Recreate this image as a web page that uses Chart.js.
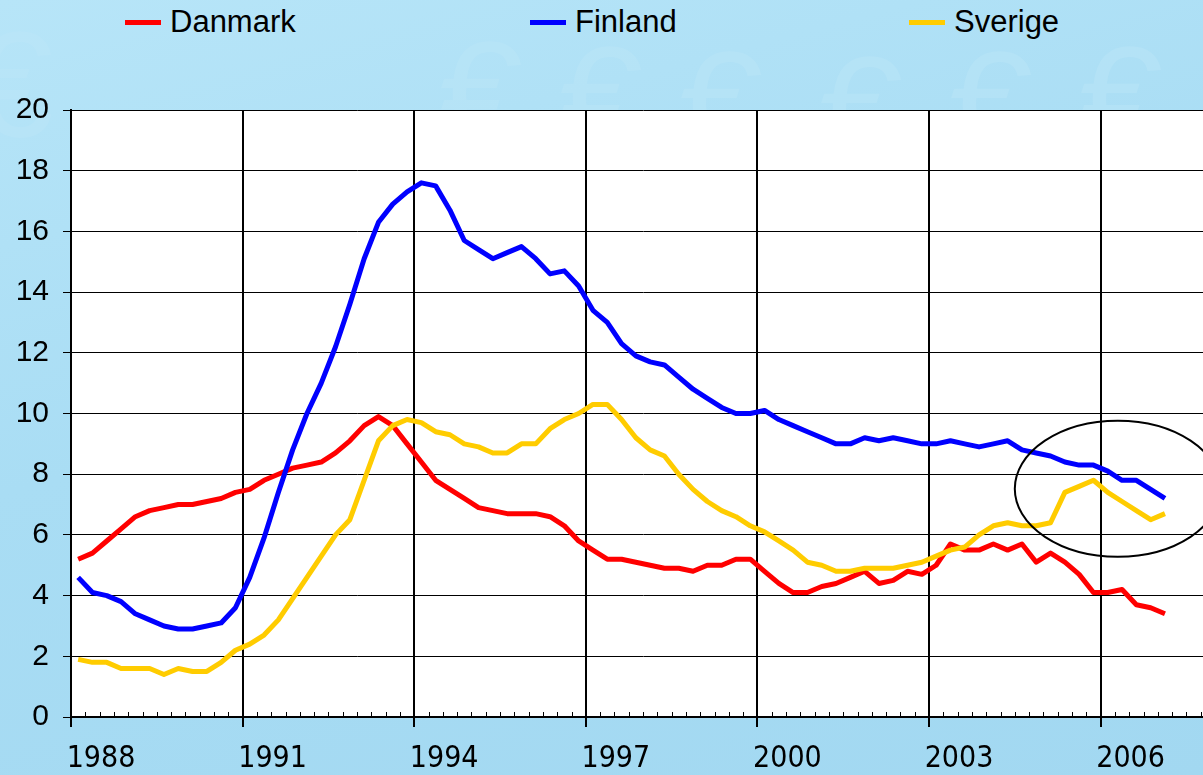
<!DOCTYPE html>
<html>
<head>
<meta charset="utf-8">
<title>Danmark, Finland, Sverige</title>
<script src="https://cdn.jsdelivr.net/npm/chart.js@4.4.1/dist/chart.umd.min.js"></script>
<style>
  html, body { margin: 0; padding: 0; }
  body {
    width: 1203px; height: 775px; overflow: hidden;
    background: linear-gradient(165deg, #b7e5f8 0%, #a9ddf4 45%, #a2d8f1 100%);
    font-family: "Liberation Sans", Arial, sans-serif;
  }
  #wrap { position: relative; width: 1203px; height: 775px; overflow: hidden; }
  .euro {
    position: absolute; font-size: 150px; line-height: 1; color: #bde7f8;
    font-family: "Liberation Sans", Arial, sans-serif; opacity: 0.45;
  }
  #chart { position: absolute; left: 0; top: 0; }
  .legend-item {
    position: absolute; top: 6px; height: 31px; line-height: 31px;
    font-size: 31px; color: #000; white-space: nowrap;
  }
  .legend-item .mark {
    display: inline-block; width: 36px; height: 5px;
    margin-right: 9px; vertical-align: 7px;
  }
</style>
</head>
<body>
<div id="wrap">
  <div class="euro" style="left:-30px; top:10px;">€</div>
  <div class="euro" style="left:440px; top:20px;">€</div>
  <div class="euro" style="left:560px; top:25px;">€</div>
  <div class="euro" style="left:680px; top:30px;">€</div>
  <div class="euro" style="left:820px; top:35px;">€</div>
  <div class="euro" style="left:950px; top:30px;">€</div>
  <div class="euro" style="left:1080px; top:25px;">€</div>
  <div id="legend"></div>
  <canvas id="chart" width="1215" height="775"></canvas>
</div>
<script>
// quarterly figures, 1988 K1 - 2007 K1
const tickYears = ['1988', '1991', '1994', '1997', '2000', '2003', '2006'];
const seriesNames = ['Danmark', 'Finland', 'Sverige'];
const seriesColors = ['#ff0000', '#0000ff', '#ffcc00'];

const danmark = [
  5.2, 5.4, 5.8, 6.2, 6.6, 6.8, 6.9, 7.0, 7.0, 7.1, 7.2, 7.4,
  7.5, 7.8, 8.0, 8.2, 8.3, 8.4, 8.7, 9.1, 9.6, 9.9, 9.6, 9.0,
  8.4, 7.8, 7.5, 7.2, 6.9, 6.8, 6.7, 6.7, 6.7, 6.6, 6.3, 5.8,
  5.5, 5.2, 5.2, 5.1, 5.0, 4.9, 4.9, 4.8, 5.0, 5.0, 5.2, 5.2,
  4.8, 4.4, 4.1, 4.1, 4.3, 4.4, 4.6, 4.8, 4.4, 4.5, 4.8, 4.7,
  5.0, 5.7, 5.5, 5.5, 5.7, 5.5, 5.7, 5.1, 5.4, 5.1, 4.7, 4.1,
  4.1, 4.2, 3.7, 3.6, 3.4
];
const finland = [
  4.6, 4.1, 4.0, 3.8, 3.4, 3.2, 3.0, 2.9, 2.9, 3.0, 3.1, 3.6,
  4.6, 5.9, 7.4, 8.8, 10.0, 11.0, 12.2, 13.6, 15.1, 16.3, 16.9, 17.3,
  17.6, 17.5, 16.7, 15.7, 15.4, 15.1, 15.3, 15.5, 15.1, 14.6, 14.7, 14.2,
  13.4, 13.0, 12.3, 11.9, 11.7, 11.6, 11.2, 10.8, 10.5, 10.2, 10.0, 10.0,
  10.1, 9.8, 9.6, 9.4, 9.2, 9.0, 9.0, 9.2, 9.1, 9.2, 9.1, 9.0,
  9.0, 9.1, 9.0, 8.9, 9.0, 9.1, 8.8, 8.7, 8.6, 8.4, 8.3, 8.3,
  8.1, 7.8, 7.8, 7.5, 7.2
];
const sverige = [
  1.9, 1.8, 1.8, 1.6, 1.6, 1.6, 1.4, 1.6, 1.5, 1.5, 1.8, 2.2,
  2.4, 2.7, 3.2, 3.9, 4.6, 5.3, 6.0, 6.5, 7.8, 9.1, 9.6, 9.8,
  9.7, 9.4, 9.3, 9.0, 8.9, 8.7, 8.7, 9.0, 9.0, 9.5, 9.8, 10.0,
  10.3, 10.3, 9.8, 9.2, 8.8, 8.6, 8.0, 7.5, 7.1, 6.8, 6.6, 6.3,
  6.1, 5.8, 5.5, 5.1, 5.0, 4.8, 4.8, 4.9, 4.9, 4.9, 5.0, 5.1,
  5.3, 5.5, 5.6, 6.0, 6.3, 6.4, 6.3, 6.3, 6.4, 7.4, 7.6, 7.8,
  7.4, 7.1, 6.8, 6.5, 6.7
];

const quartersOnAxis = 80; // axis runs on to 2008 K1
const circleMark = { x: 73.2, y: 7.52, rx: 7.2, ry: 2.24 }; // ring round the last quarters

const xTickFont = { family: '"DejaVu Sans Condensed", "Liberation Sans Narrow", sans-serif', size: 30 };
const yTickFont = { family: '"Liberation Sans", Arial, sans-serif', size: 30 };

// legend as plain html above the plot
const legendLeft = [125, 530, 909];
const legendEl = document.getElementById('legend');
seriesNames.forEach((name, i) => {
  const item = document.createElement('div');
  item.className = 'legend-item';
  item.style.left = legendLeft[i] + 'px';
  item.innerHTML = '<span class="mark" style="background:' + seriesColors[i] + '"></span>' + name;
  legendEl.appendChild(item);
});

const toPoints = arr => arr.map((v, i) => ({ x: i + 0.5, y: v }));

// white plot area, small quarter ticks and the ring
const plotDecor = {
  id: 'plotDecor',
  beforeDraw(chart) {
    const { ctx, chartArea: a } = chart;
    ctx.save();
    ctx.fillStyle = '#ffffff';
    ctx.fillRect(a.left, a.top, a.right - a.left, a.bottom - a.top);
    ctx.restore();
  },
  beforeDatasetsDraw(chart) {
    const { ctx, chartArea: a, scales } = chart;
    ctx.save();
    ctx.strokeStyle = '#000';
    ctx.lineWidth = 1;
    ctx.beginPath();
    for (let q = 1; q < quartersOnAxis; q++) {
      if (q % 12 === 0) continue;
      const x = Math.round(scales.x.getPixelForValue(q)) + 0.5;
      ctx.moveTo(x, a.bottom);
      ctx.lineTo(x, a.bottom - 5);
    }
    ctx.stroke();
    ctx.restore();
  },
  afterDatasetsDraw(chart) {
    const { ctx, scales } = chart;
    const cx = scales.x.getPixelForValue(circleMark.x);
    const cy = scales.y.getPixelForValue(circleMark.y);
    const rx = scales.x.getPixelForValue(circleMark.x + circleMark.rx) - cx;
    const ry = cy - scales.y.getPixelForValue(circleMark.y + circleMark.ry);
    ctx.save();
    ctx.strokeStyle = '#000';
    ctx.lineWidth = 2;
    ctx.beginPath();
    ctx.ellipse(cx, cy, rx, ry, 0, 0, Math.PI * 2);
    ctx.stroke();
    ctx.restore();
  }
};

const seriesData = [danmark, finland, sverige];

new Chart(document.getElementById('chart').getContext('2d'), {
  type: 'line',
  data: {
    datasets: seriesData.map((arr, i) => ({
      label: seriesNames[i],
      data: toPoints(arr),
      borderColor: seriesColors[i],
      backgroundColor: seriesColors[i],
      borderWidth: 5,
      pointRadius: 0,
      tension: 0,
      borderJoinStyle: 'round',
      order: 2 - i // sverige on top, then finland
    }))
  },
  options: {
    responsive: false,
    devicePixelRatio: 1,
    animation: false,
    layout: { padding: { top: 110, right: 0, bottom: 0, left: 0 } },
    plugins: {
      legend: { display: false },
      tooltip: { enabled: false }
    },
    scales: {
      x: {
        type: 'linear',
        min: 0,
        max: quartersOnAxis,
        afterBuildTicks: scale => {
          scale.ticks = tickYears.map((y, i) => ({ value: i * 12 }));
        },
        afterFit: scale => { scale.height = 58; },
        ticks: {
          callback: value => tickYears[Math.round(value / 12)],
          autoSkip: false,
          maxRotation: 0,
          labelOffset: 30,
          padding: 14,
          color: '#000',
          font: xTickFont
        },
        grid: { color: '#000', lineWidth: 2, tickLength: 10, tickColor: '#000' },
        border: { color: '#000', width: 2 }
      },
      y: {
        min: 0,
        max: 20,
        afterFit: scale => { scale.width = 71; },
        ticks: {
          stepSize: 2,
          padding: 14,
          color: '#000',
          font: yTickFont
        },
        grid: { color: '#000', lineWidth: 1, tickLength: 8, tickColor: '#000' },
        border: { color: '#000', width: 2 }
      }
    }
  },
  plugins: [plotDecor]
});
</script>
</body>
</html>
